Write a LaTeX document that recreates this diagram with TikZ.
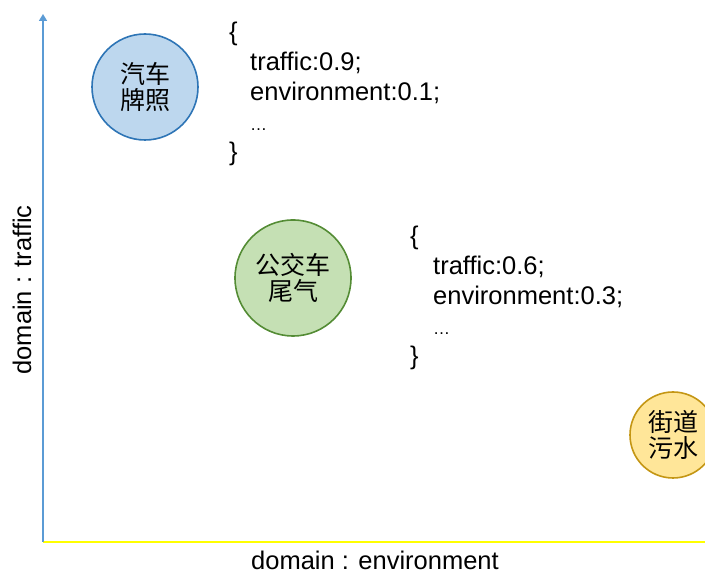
\documentclass[tikz,border=0pt]{standalone}
\usepackage{fontspec}
\setmainfont{Liberation Sans}
\newfontfamily\cjk{Noto Sans CJK SC}
\usetikzlibrary{arrows.meta}
\definecolor{axisblue}{RGB}{91,155,213}
\definecolor{axisyellow}{RGB}{255,255,0}
\definecolor{bluefill}{RGB}{189,215,238}
\definecolor{blueline}{RGB}{46,117,182}
\definecolor{greenfill}{RGB}{197,224,180}
\definecolor{greenline}{RGB}{84,140,53}
\definecolor{goldfill}{RGB}{255,230,153}
\definecolor{goldline}{RGB}{196,150,20}
\newcommand{\smalldots}{{\fontsize{17}{20}\selectfont …}}
\tikzset{
  topic/.style={circle, line width=1.6pt, inner sep=0pt, align=center,
    font=\cjk\fontsize{25}{25.5}\selectfont},
  weights/.style={anchor=base west, align=left, inner sep=0pt,
    font=\fontsize{25.5}{30}\selectfont},
  axislabel/.style={font=\fontsize{25.5}{28}\selectfont, inner sep=0pt},
}
\begin{document}
\begin{tikzpicture}[x=1pt,y=1pt]
  \useasboundingbox (0,0) rectangle (705,572);
  % axes
  \coordinate (origin) at (43,30);
  \coordinate (ytip) at (43,558);
  \coordinate (xend) at (705,30);
  \draw[axisyellow, line width=2pt] (origin) -- (xend);
  \draw[axisblue, line width=1.6pt, -{Triangle[width=8pt,length=7pt]}] (origin) -- (ytip);
  \node[axislabel, rotate=90] (ylabel) at (22,282) {domain : traffic};
  \node[axislabel] (xlabel) at (375,12) {domain : environment};
  % topics
  \node[topic, draw=blueline, fill=bluefill, minimum size=106pt] (plate) at (145,485) {汽车\\牌照};
  \node[topic, draw=greenline, fill=greenfill, minimum size=116pt] (bus) at (293,294) {公交车\\尾气};
  \begin{scope}
    \clip (0,0) rectangle (705,572);
    \node[topic, draw=goldline, fill=goldfill, minimum size=86pt] (sewage) at (673,137) {街道\\污水};
  \end{scope}
  % weight vectors (anchored at the baseline of the closing brace)
  \node[weights] (w1) at (229,411) {\{\\\hspace{21pt}traffic:0.9;\\\hspace{21pt}environment:0.1;\\\hspace{21pt}\smalldots\\\}};
  \node[weights] (w2) at (410,207) {\{\\\hspace{23pt}traffic:0.6;\\\hspace{23pt}environment:0.3;\\\hspace{23pt}\smalldots\\\}};
\end{tikzpicture}
\end{document}
